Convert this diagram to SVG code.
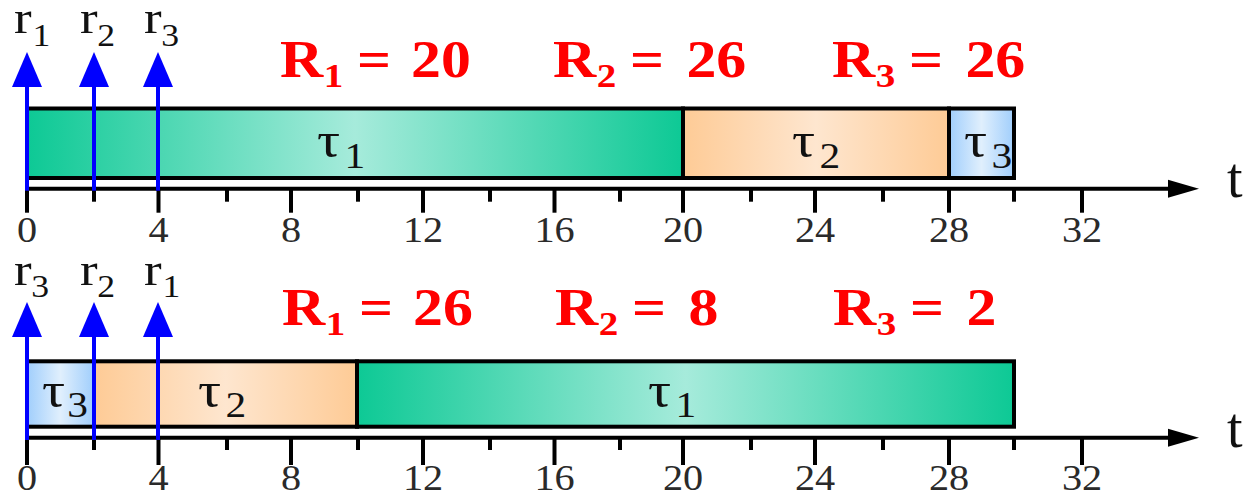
<svg xmlns="http://www.w3.org/2000/svg" width="1244" height="490" viewBox="0 0 1244 490">
<defs>
<linearGradient id="gGreen" x1="0" y1="0" x2="1" y2="0">
<stop offset="0" stop-color="#0DC995"/><stop offset="0.5" stop-color="#A6EBDB"/><stop offset="1" stop-color="#0DC995"/>
</linearGradient>
<linearGradient id="gOrange" x1="0" y1="0" x2="1" y2="0">
<stop offset="0" stop-color="#FECB96"/><stop offset="0.5" stop-color="#FEE6CF"/><stop offset="1" stop-color="#FECB96"/>
</linearGradient>
<linearGradient id="gBlue" x1="0" y1="0" x2="1" y2="0">
<stop offset="0" stop-color="#A0CEFC"/><stop offset="0.5" stop-color="#E0EFFD"/><stop offset="1" stop-color="#A0CEFC"/>
</linearGradient>
<style>
.bar{stroke:#000;stroke-width:4}
.axis{stroke:#000;stroke-width:4;fill:none}
.tick{stroke:#000;stroke-width:4}
.ahead{fill:#000}
.rel{stroke:#0000FF;stroke-width:4}
.rhead{fill:#0000FF}
.num{font-family:"Liberation Serif","Times New Roman",serif;font-size:35px;fill:#2a2a2a;text-anchor:middle}
.R{font-family:"Liberation Serif","Times New Roman",serif;font-weight:bold;font-size:52px;fill:#FF0000}
.Rs{font-size:34px}
.r{font-family:"Liberation Serif","Times New Roman",serif;font-size:46px;fill:#111}
.rs{font-size:31px}
.tau{font-family:"Liberation Serif","Times New Roman",serif;font-size:50px;fill:#111}
.taus{font-size:36px}
.t{font-family:"Liberation Serif","Times New Roman",serif;font-size:56px;fill:#111}
</style>
</defs>

<!-- ===== TOP SCHEDULE ===== -->
<g id="top-tau1"><rect class="bar" x="27" y="108.5" width="656" height="69.5" fill="url(#gGreen)"/>
<text class="tau" transform="translate(317,157) scale(1.15,1)"><tspan x="0">τ</tspan><tspan class="taus" x="24" dy="11">1</tspan></text></g>
<g id="top-tau2"><rect class="bar" x="683" y="108.5" width="266" height="69.5" fill="url(#gOrange)"/>
<text class="tau" transform="translate(792,157) scale(1.15,1)"><tspan x="0">τ</tspan><tspan class="taus" x="24" dy="11">2</tspan></text></g>
<g id="top-tau3"><rect class="bar" x="949" y="108.5" width="65" height="69.5" fill="url(#gBlue)"/>
<text class="tau" transform="translate(964,157) scale(1.15,1)"><tspan x="0">τ</tspan><tspan class="taus" x="24" dy="11">3</tspan></text></g>

<g id="top-axis">
<line class="axis" x1="27" y1="188.7" x2="1172" y2="188.7"/>
<polygon class="ahead" points="1199,188.7 1168,179.7 1168,197.7"/>
<g class="tick">
<line x1="27" y1="188.7" x2="27" y2="212.7"/><line x1="94" y1="188.7" x2="94" y2="201.7"/>
<line x1="158.5" y1="188.7" x2="158.5" y2="212.7"/><line x1="227" y1="188.7" x2="227" y2="201.7"/>
<line x1="291" y1="188.7" x2="291" y2="212.7"/><line x1="358" y1="188.7" x2="358" y2="201.7"/>
<line x1="423" y1="188.7" x2="423" y2="212.7"/><line x1="490" y1="188.7" x2="490" y2="201.7"/>
<line x1="554.5" y1="188.7" x2="554.5" y2="212.7"/><line x1="620" y1="188.7" x2="620" y2="201.7"/>
<line x1="683" y1="188.7" x2="683" y2="212.7"/><line x1="751" y1="188.7" x2="751" y2="201.7"/>
<line x1="815" y1="188.7" x2="815" y2="212.7"/><line x1="883" y1="188.7" x2="883" y2="201.7"/>
<line x1="949" y1="188.7" x2="949" y2="212.7"/><line x1="1014" y1="188.7" x2="1014" y2="201.7"/>
<line x1="1082" y1="188.7" x2="1082" y2="212.7"/>
</g>
<text class="num" transform="translate(27,242) scale(1.15,1)">0</text>
<text class="num" transform="translate(158.5,242) scale(1.15,1)">4</text>
<text class="num" transform="translate(291,242) scale(1.15,1)">8</text>
<text class="num" transform="translate(423,242) scale(1.15,1)">12</text>
<text class="num" transform="translate(554.5,242) scale(1.15,1)">16</text>
<text class="num" transform="translate(683,242) scale(1.15,1)">20</text>
<text class="num" transform="translate(815,242) scale(1.15,1)">24</text>
<text class="num" transform="translate(949,242) scale(1.15,1)">28</text>
<text class="num" transform="translate(1082,242) scale(1.15,1)">32</text>
<text class="t" x="1227" y="197">t</text>
</g>

<g id="top-resp">
<text class="R" transform="translate(280,77) scale(1.15,1)"><tspan x="0">R</tspan><tspan class="Rs" x="38" dy="10">1</tspan><tspan x="67" dy="-10">=</tspan><tspan x="114">20</tspan></text>
<text class="R" transform="translate(553,77) scale(1.15,1)"><tspan x="0">R</tspan><tspan class="Rs" x="38" dy="10">2</tspan><tspan x="67" dy="-10">=</tspan><tspan x="116">26</tspan></text>
<text class="R" transform="translate(832,77) scale(1.15,1)"><tspan x="0">R</tspan><tspan class="Rs" x="38" dy="10">3</tspan><tspan x="67" dy="-10">=</tspan><tspan x="116">26</tspan></text>
</g>

<!-- ===== BOTTOM SCHEDULE ===== -->
<g id="bot-tau3"><rect class="bar" x="27" y="361.3" width="67" height="65.4" fill="url(#gBlue)"/>
<text class="tau" transform="translate(42,407) scale(1.15,1)"><tspan x="0">τ</tspan><tspan class="taus" x="22" dy="10">3</tspan></text></g>
<g id="bot-tau2"><rect class="bar" x="94" y="361.3" width="263" height="65.4" fill="url(#gOrange)"/>
<text class="tau" transform="translate(198,407) scale(1.15,1)"><tspan x="0">τ</tspan><tspan class="taus" x="24" dy="10">2</tspan></text></g>
<g id="bot-tau1"><rect class="bar" x="357" y="361.3" width="657" height="65.4" fill="url(#gGreen)"/>
<text class="tau" transform="translate(648,407) scale(1.15,1)"><tspan x="0">τ</tspan><tspan class="taus" x="24" dy="10">1</tspan></text></g>

<g id="bot-axis">
<line class="axis" x1="27" y1="437.8" x2="1172" y2="437.8"/>
<polygon class="ahead" points="1199,437.8 1168,428.8 1168,446.8"/>
<g class="tick">
<line x1="27" y1="437.8" x2="27" y2="465"/><line x1="94" y1="437.8" x2="94" y2="450"/>
<line x1="158.5" y1="437.8" x2="158.5" y2="465"/><line x1="227" y1="437.8" x2="227" y2="450"/>
<line x1="291" y1="437.8" x2="291" y2="465"/><line x1="358" y1="437.8" x2="358" y2="450"/>
<line x1="423" y1="437.8" x2="423" y2="465"/><line x1="490" y1="437.8" x2="490" y2="450"/>
<line x1="554.5" y1="437.8" x2="554.5" y2="465"/><line x1="620" y1="437.8" x2="620" y2="450"/>
<line x1="683" y1="437.8" x2="683" y2="465"/><line x1="751" y1="437.8" x2="751" y2="450"/>
<line x1="815" y1="437.8" x2="815" y2="465"/><line x1="883" y1="437.8" x2="883" y2="450"/>
<line x1="949" y1="437.8" x2="949" y2="465"/><line x1="1014" y1="437.8" x2="1014" y2="450"/>
<line x1="1082" y1="437.8" x2="1082" y2="465"/>
</g>
<text class="num" transform="translate(27,490) scale(1.15,1)">0</text>
<text class="num" transform="translate(158.5,490) scale(1.15,1)">4</text>
<text class="num" transform="translate(291,490) scale(1.15,1)">8</text>
<text class="num" transform="translate(423,490) scale(1.15,1)">12</text>
<text class="num" transform="translate(554.5,490) scale(1.15,1)">16</text>
<text class="num" transform="translate(683,490) scale(1.15,1)">20</text>
<text class="num" transform="translate(815,490) scale(1.15,1)">24</text>
<text class="num" transform="translate(949,490) scale(1.15,1)">28</text>
<text class="num" transform="translate(1082,490) scale(1.15,1)">32</text>
<text class="t" x="1227" y="447">t</text>
</g>

<g id="bot-resp">
<text class="R" transform="translate(282,325) scale(1.15,1)"><tspan x="0">R</tspan><tspan class="Rs" x="38" dy="10">1</tspan><tspan x="67" dy="-10">=</tspan><tspan x="114">26</tspan></text>
<text class="R" transform="translate(555,325) scale(1.15,1)"><tspan x="0">R</tspan><tspan class="Rs" x="38" dy="10">2</tspan><tspan x="67" dy="-10">=</tspan><tspan x="116">8</tspan></text>
<text class="R" transform="translate(833,325) scale(1.15,1)"><tspan x="0">R</tspan><tspan class="Rs" x="38" dy="10">3</tspan><tspan x="67" dy="-10">=</tspan><tspan x="116">2</tspan></text>
</g>

<!-- ===== RELEASE ARROWS (connectors) ===== -->
<g id="connectors">
<line class="rel" x1="27" y1="190.7" x2="27" y2="84"/><polygon class="rhead" points="27,52 12,87 42,87"/>
<line class="rel" x1="94" y1="190.7" x2="94" y2="84"/><polygon class="rhead" points="94,52 79,87 109,87"/>
<line class="rel" x1="158" y1="190.7" x2="158" y2="84"/><polygon class="rhead" points="158,52 143,87 173,87"/>
<line class="rel" x1="27" y1="440" x2="27" y2="334"/><polygon class="rhead" points="27,302 12,337 42,337"/>
<line class="rel" x1="94" y1="440" x2="94" y2="334"/><polygon class="rhead" points="94,302 79,337 109,337"/>
<line class="rel" x1="158" y1="440" x2="158" y2="334"/><polygon class="rhead" points="158,302 143,337 173,337"/>
</g>

<g id="release-labels">
<text class="r" transform="translate(14,33) scale(1.15,1)"><tspan x="0">r</tspan><tspan class="rs" x="16" dy="13">1</tspan></text>
<text class="r" transform="translate(80,33) scale(1.15,1)"><tspan x="0">r</tspan><tspan class="rs" x="15" dy="13">2</tspan></text>
<text class="r" transform="translate(144,33) scale(1.15,1)"><tspan x="0">r</tspan><tspan class="rs" x="15" dy="13">3</tspan></text>
<text class="r" transform="translate(14,285) scale(1.15,1)"><tspan x="0">r</tspan><tspan class="rs" x="15" dy="12">3</tspan></text>
<text class="r" transform="translate(80,285) scale(1.15,1)"><tspan x="0">r</tspan><tspan class="rs" x="15" dy="12">2</tspan></text>
<text class="r" transform="translate(144,285) scale(1.15,1)"><tspan x="0">r</tspan><tspan class="rs" x="16" dy="12">1</tspan></text>
</g>
</svg>
